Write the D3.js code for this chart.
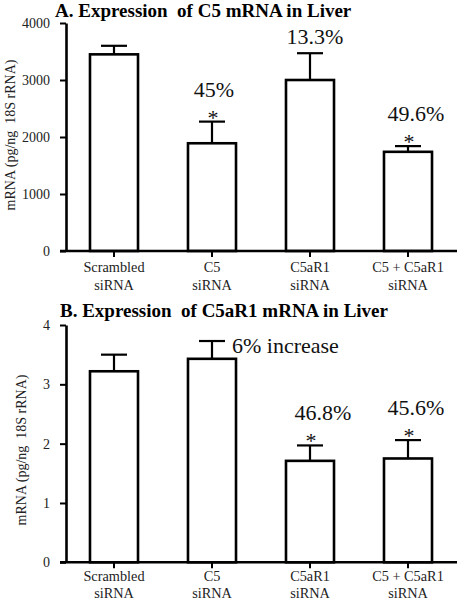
<!DOCTYPE html>
<html><head><meta charset="utf-8">
<script src="https://cdn.jsdelivr.net/npm/d3@7/dist/d3.min.js"></script>
<style>
html,body{margin:0;padding:0;background:#fff;}
svg{display:block;font-family:"Liberation Serif","Times New Roman",serif;}
</style></head>
<body>
<svg id="chart" width="458" height="600"></svg>
<script>
// ---- data ----
const categoriesLine1 = ["Scrambled", "C5", "C5aR1", "C5 + C5aR1"];
const categoriesLine2 = ["siRNA", "siRNA", "siRNA", "siRNA"];

const c5Values = [3450, 1890, 3000, 1740];
const c5ErrUp = [150, 380, 470, 100];
const c5Ticks = [0, 1000, 2000, 3000, 4000];
const c5Labels = ["", "45%", "13.3%", "49.6%"];
const c5Stars = [false, true, false, true];

const c5ar1Values = [3.22, 3.43, 1.71, 1.75];
const c5ar1ErrUp = [0.28, 0.30, 0.26, 0.31];
const c5ar1Ticks = [0, 1, 2, 3, 4];
const c5ar1Labels = ["", "6% increase", "46.8%", "45.6%"];
const c5ar1Stars = [false, false, true, true];

const titleA = "A. Expression  of C5 mRNA in Liver";
const titleB = "B. Expression  of C5aR1 mRNA in Liver";
const yLabel = "mRNA (pg/ng  18S rRNA)";

// ---- layout ----
const svg = d3.select("#chart");
const catKeys = categoriesLine1.map((d, i) => i);

function panel(cfg) {
  const g = svg.append("g");
  const x = d3.scaleBand().domain(catKeys).range([65, 457]).paddingInner(0.51).paddingOuter(0.255);
  const y = d3.scaleLinear().domain(cfg.domain).range([cfg.y0, cfg.y1]);

  // title
  g.append("text").attr("x", cfg.titleX).attr("y", cfg.titleY)
    .attr("font-size", 19).attr("font-weight", "bold").style("white-space", "pre")
    .text(cfg.title);

  // y label
  g.append("text")
    .attr("transform", `translate(${cfg.ylabX},${cfg.ylabY}) rotate(-90)`)
    .attr("text-anchor", "middle").attr("font-size", 14).attr("fill", "#222")
    .style("white-space", "pre")
    .text(yLabel);

  // bars
  g.selectAll("rect.bar").data(cfg.values).join("rect")
    .attr("x", (d, i) => x(i)).attr("width", x.bandwidth())
    .attr("y", d => y(d)).attr("height", d => y(0) - y(d))
    .attr("fill", "#fff").attr("stroke", "#000").attr("stroke-width", 2.6);

  // error bars (upper only)
  const capW = 26;
  cfg.values.forEach((v, i) => {
    const cx = x(i) + x.bandwidth() / 2;
    g.append("line").attr("x1", cx).attr("x2", cx).attr("y1", y(v)).attr("y2", y(v + cfg.err[i]))
      .attr("stroke", "#000").attr("stroke-width", 2.2);
    g.append("line").attr("x1", cx - capW / 2).attr("x2", cx + capW / 2)
      .attr("y1", y(v + cfg.err[i])).attr("y2", y(v + cfg.err[i]))
      .attr("stroke", "#000").attr("stroke-width", 2.2);
  });

  // y axis
  const yAxis = d3.axisLeft(y).tickValues(cfg.ticks).tickSize(6).tickSizeOuter(0).tickPadding(10)
    .tickFormat(d3.format("d"));
  const ya = g.append("g").attr("transform", "translate(66,0)").call(yAxis);
  ya.select(".domain").attr("stroke", "#000").attr("stroke-width", 2.6);
  ya.selectAll(".tick line").attr("stroke", "#000").attr("stroke-width", 2);
  ya.selectAll(".tick text").attr("font-family", "Liberation Serif").attr("font-size", 14).attr("fill", "#222");

  // x axis
  const xAxis = d3.axisBottom(x).tickSize(6).tickSizeOuter(0).tickFormat("");
  const xa = g.append("g").attr("transform", `translate(0,${y(0)})`).call(xAxis);
  xa.select(".domain").attr("d", `M60,0H457`).attr("stroke", "#000").attr("stroke-width", 2.6);
  xa.selectAll(".tick line").attr("stroke", "#000").attr("stroke-width", 2);

  // category labels
  catKeys.forEach(i => {
    const cx = x(i) + x.bandwidth() / 2;
    const t = g.append("text").attr("text-anchor", "middle").attr("font-size", 14.3).attr("fill", "#222");
    t.append("tspan").attr("x", cx).attr("y", y(0) + cfg.line1).text(categoriesLine1[i]);
    t.append("tspan").attr("x", cx).attr("y", y(0) + cfg.line2).text(categoriesLine2[i]);
  });

  // annotations
  cfg.labels.forEach((lab, i) => {
    if (!lab) return;
    const cx = x(i) + x.bandwidth() / 2;
    const top = y(cfg.values[i] + cfg.err[i]);
    if (cfg.side[i]) {
      g.append("text").attr("x", cx + 20).attr("y", top + 12).attr("font-size", 22)
        .attr("fill", "#111").text(lab);
    } else {
      const star = cfg.stars[i];
      g.append("text").attr("x", cx + cfg.dx[i]).attr("y", star ? top - 25 : top - 9)
        .attr("text-anchor", "middle").attr("font-size", 22).attr("fill", "#111").text(lab);
      if (star) {
        g.append("text").attr("x", cx + 1).attr("y", top + 3)
          .attr("text-anchor", "middle").attr("font-size", 22).attr("fill", "#111").text("*");
      }
    }
  });
}

panel({
  title: titleA, titleX: 55, titleY: 17,
  ylabX: 15, ylabY: 135,
  domain: [0, 4000], y0: 251, y1: 23, ticks: c5Ticks,
  values: c5Values, err: c5ErrUp, labels: c5Labels, stars: c5Stars,
  side: [false, false, false, false], dx: [0, 2, 5, 8], line1: 21, line2: 39
});

panel({
  title: titleB, titleX: 60, titleY: 317,
  ylabX: 26, ylabY: 450,
  domain: [0, 4], y0: 562.3, y1: 325, ticks: c5ar1Ticks,
  values: c5ar1Values, err: c5ar1ErrUp, labels: c5ar1Labels, stars: c5ar1Stars,
  side: [false, true, false, false], dx: [0, 0, 13, 8], line1: 18.5, line2: 35.5
});
</script>
</body></html>
